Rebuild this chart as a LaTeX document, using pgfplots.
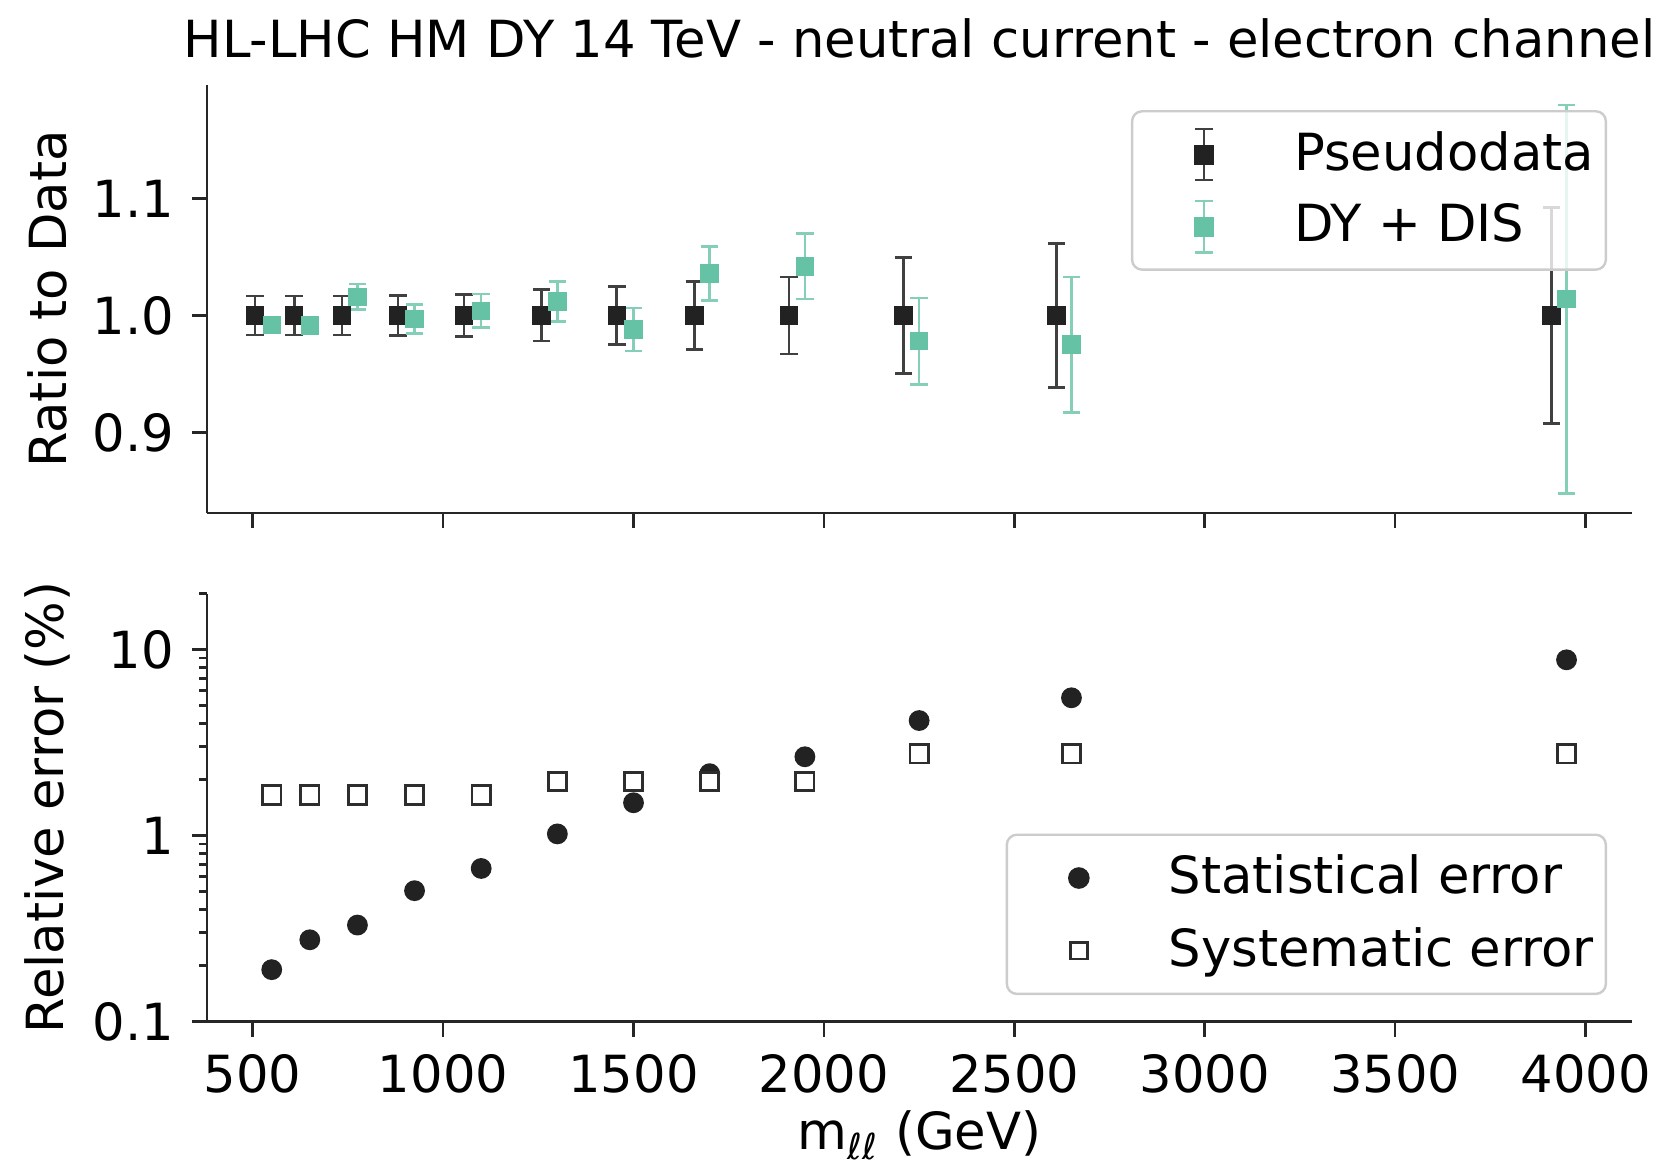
\documentclass[border=0pt]{standalone}
\usepackage{fontspec}
\setmainfont{DejaVu Sans}
\usepackage{pgfplots}
\pgfplotsset{compat=1.18}
\definecolor{dk}{HTML}{222222}
\definecolor{gr}{HTML}{66C2A5}
\definecolor{ax}{HTML}{262626}
\begin{document}
\fontsize{12.8pt}{15pt}\selectfont
\begin{tikzpicture}
\useasboundingbox (-51.75pt,-35.875pt) rectangle (364.5pt,255.375pt);
\pgfplotsset{
  myax/.style={
    scale only axis, width=356.25pt, height=107pt,
    xmin=380, xmax=4122,
    axis x line*=bottom, axis y line*=left,
    axis line style={-, line width=0.65pt, color=ax},
    tick style={line width=0.65pt, color=ax},
    major tick length=3.75pt, minor tick length=1.9pt,
    tick align=outside,
    xtick={500,1000,...,4000},
    clip=false,
    legend cell align=left,
    every axis y label/.style={at={(axis description cs:0,0.5)}, xshift=-40pt, rotate=90, anchor=center},
  },
  lg/.style={draw=black!20, line width=0.6pt, rounded corners=2.5pt, fill=white, fill opacity=0.8, text opacity=1,
    inner xsep=2pt, inner ysep=4pt, row sep=4.5pt, nodes={inner sep=1pt}},
}
% ---------------- top panel ----------------
\begin{axis}[myax, at={(0,127.1pt)}, anchor=south west,
  ymin=0.831, ymax=1.197,
  ytick={0.9,1.0,1.1}, yticklabels={0.9,1.0,1.1},
  xticklabels={},
  ylabel={Ratio to Data},
  title={HL-LHC HM DY 14 TeV - neutral current - electron channel},
  title style={at={(axis description cs:0.5,1)}, anchor=base, yshift=1pt},
  legend style={lg, at={(1,1)}, anchor=north east, xshift=-6.25pt, yshift=-6.25pt},
]
\addplot[only marks, mark=square*, mark size=2.1pt, color=dk,
  error bars/.cd, y dir=both, y explicit,
  error bar style={line width=0.65pt, color=black!75},
  error mark options={rotate=90, line width=0.65pt, color=black!75, mark size=2.2pt},
  /pgfplots/legend image code/.code={
    \path[draw=none, fill=none] (-16pt,0pt) -- (21.5pt,0pt);
    \draw[sharp corners, line width=0.65pt, black!75, opacity=1] (0pt,-6.4pt) -- (0pt,6.4pt) (-2.2pt,-6.4pt) -- (2.2pt,-6.4pt) (-2.2pt,6.4pt) -- (2.2pt,6.4pt);
    \fill[sharp corners, dk, fill opacity=1] (-2.2pt,-2.2pt) rectangle (2.2pt,2.2pt);
  },
] coordinates {
  (506,1.0) +- (0,0.0166)
  (609,1.0) +- (0,0.0167)
  (734,1.0) +- (0,0.0168)
  (882,1.0) +- (0,0.0173)
  (1055,1.0) +- (0,0.0178)
  (1258,1.0) +- (0,0.0220)
  (1456,1.0) +- (0,0.0246)
  (1660,1.0) +- (0,0.0290)
  (1908,1.0) +- (0,0.0329)
  (2209,1.0) +- (0,0.0498)
  (2611,1.0) +- (0,0.0615)
  (3910,1.0) +- (0,0.0922)
};
\addlegendentry{Pseudodata}
\addplot[only marks, mark=square*, mark size=2.1pt, color=gr,
  error bars/.cd, y dir=both, y explicit,
  error bar style={line width=0.65pt, color=gr!80},
  error mark options={rotate=90, line width=0.65pt, color=gr!80, mark size=2.2pt},
  /pgfplots/legend image code/.code={
    \path[draw=none, fill=none] (-16pt,0pt) -- (21.5pt,0pt);
    \draw[sharp corners, line width=0.65pt, gr!80, opacity=1] (0pt,-6.4pt) -- (0pt,6.4pt) (-2.2pt,-6.4pt) -- (2.2pt,-6.4pt) (-2.2pt,6.4pt) -- (2.2pt,6.4pt);
    \fill[sharp corners, gr, fill opacity=1] (-2.2pt,-2.2pt) rectangle (2.2pt,2.2pt);
  },
] coordinates {
  (550,0.992) +- (0,0.006)
  (650,0.9915) +- (0,0.006)
  (775,1.016) +- (0,0.011)
  (925,0.997) +- (0,0.0125)
  (1100,1.004) +- (0,0.0145)
  (1300,1.012) +- (0,0.017)
  (1500,0.988) +- (0,0.0185)
  (1700,1.036) +- (0,0.023)
  (1950,1.042) +- (0,0.028)
  (2250,0.978) +- (0,0.037)
  (2650,0.975) +- (0,0.058)
  (3950,1.014) +- (0,0.166)
};
\addlegendentry{DY + DIS}
\end{axis}
% ---------------- bottom panel ----------------
\begin{axis}[myax, at={(0,0)}, anchor=south west,
  ymode=log, ymin=0.1, ymax=20,
  ytick={0.1,1,10}, yticklabels={0.1,1,10},
  minor ytick={0.2,0.3,0.4,0.5,0.6,0.7,0.8,0.9,2,3,4,5,6,7,8,9,20},
  xticklabels={500,1000,1500,2000,2500,3000,3500,4000},
  ylabel={Relative error (\%)},
  xlabel={m\textsubscript{\textit{ℓℓ}} (GeV)},
  every axis x label/.style={at={(axis description cs:0.5,0)}, anchor=base, yshift=-31.9pt},
  legend style={lg, at={(1,0)}, anchor=south east, xshift=-6.25pt, yshift=6.6pt},
]
\addplot[only marks, mark=*, mark size=2.4pt, color=dk,
  /pgfplots/legend image code/.code={
    \path[draw=none, fill=none] (-16pt,0pt) -- (21.5pt,0pt) (0pt,-6.4pt) -- (0pt,6.4pt);
    \fill[dk, fill opacity=1] (0pt,0pt) circle (2.4pt);
  },
] coordinates {
  (550,0.19) (650,0.275) (775,0.33) (925,0.505) (1100,0.665) (1300,1.02)
  (1500,1.5) (1700,2.15) (1950,2.65) (2250,4.15) (2650,5.5) (3950,8.8)
};
\addlegendentry{Statistical error}
\addplot[only marks, mark=square*, mark size=2.3pt, color=dk!95, fill=white, mark options={line width=0.7pt, fill=white},
  /pgfplots/legend image code/.code={
    \path[draw=none, fill=none] (-16pt,0pt) -- (21.5pt,0pt) (0pt,-6.4pt) -- (0pt,6.4pt);
    \draw[sharp corners, dk!95, line width=0.7pt, fill=white, fill opacity=1, opacity=1] (-2.1pt,-2.1pt) rectangle (2.1pt,2.1pt);
  },
] coordinates {
  (550,1.65) (650,1.65) (775,1.65) (925,1.65) (1100,1.65) (1300,1.95)
  (1500,1.95) (1700,1.95) (1950,1.95) (2250,2.75) (2650,2.75) (3950,2.75)
};
\addlegendentry{Systematic error}
\end{axis}
\end{tikzpicture}
\end{document}
